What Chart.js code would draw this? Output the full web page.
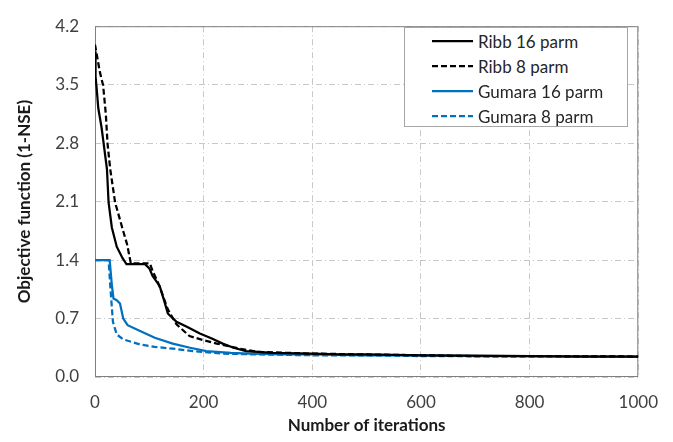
<!DOCTYPE html>
<html>
<head>
<meta charset="utf-8">
<script src="https://cdn.jsdelivr.net/npm/chart.js@4.4.1/dist/chart.umd.min.js"></script>
<style>
	html, body { margin: 0; padding: 0; background: #fff; }
	#wrap { position: relative; width: 673px; height: 442px; }
	#legend {
		position: absolute; left: 404px; top: 27px; width: 224px; height: 100px;
		box-sizing: border-box; border: 1px solid #a6a6a6; background: #fff;
		font-family: Lato, sans-serif; font-size: 17px; color: #262626;
	}
	.item { position: absolute; left: 27px; height: 24px; display: flex; align-items: center; white-space: nowrap; }
	.item svg { margin-right: 5px; }
</style>
</head>
<body>
<div id="wrap">
	<canvas id="chart" width="673" height="442"></canvas>
	<div id="legend"></div>
</div>
<script>
// Objective function vs iterations
const ribb16Iter = [0, 1, 3, 6, 12, 16, 22, 25, 31, 40, 51, 58, 92, 100, 106, 119, 128, 134, 150, 170, 193, 215, 235, 255, 278, 300, 327, 400, 450, 500, 600, 700, 800, 900, 1000];
const ribb16Obj = [3.9, 3.6, 3.46, 3.22, 2.99, 2.79, 2.49, 2.09, 1.79, 1.56, 1.42, 1.35, 1.35, 1.3, 1.21, 1.09, 0.9, 0.76, 0.66, 0.6, 0.52, 0.46, 0.4, 0.35, 0.31, 0.3, 0.29, 0.28, 0.27, 0.27, 0.26, 0.255, 0.25, 0.245, 0.245];

const ribb8Iter = [0, 9, 15, 20, 23, 28, 37, 50, 59, 66, 101, 106, 116, 123, 134, 150, 174, 200, 224, 266, 300, 350, 400, 500, 600, 700, 800, 1000];
const ribb8Obj = [3.98, 3.65, 3.49, 3.14, 2.8, 2.49, 2.09, 1.79, 1.59, 1.36, 1.36, 1.27, 1.13, 1.01, 0.81, 0.63, 0.49, 0.44, 0.4, 0.34, 0.3, 0.29, 0.28, 0.27, 0.26, 0.25, 0.25, 0.245];

const gumara16Iter = [0, 27, 31, 34, 40, 46, 52, 60, 83, 110, 143, 175, 205, 250, 284, 350, 400, 500, 600, 700, 800, 1000];
const gumara16Obj = [1.4, 1.4, 1.1, 0.94, 0.92, 0.88, 0.7, 0.62, 0.55, 0.47, 0.4, 0.35, 0.31, 0.29, 0.28, 0.27, 0.27, 0.26, 0.26, 0.25, 0.25, 0.245];

const gumara8Iter = [0, 25, 28, 33, 40, 52, 83, 110, 143, 180, 235, 300, 400, 500, 600, 1000];
const gumara8Obj = [1.4, 1.4, 1.1, 0.66, 0.51, 0.45, 0.39, 0.36, 0.34, 0.31, 0.28, 0.27, 0.26, 0.26, 0.25, 0.245];

const seriesNames = ['Ribb 16 parm', 'Ribb 8 parm', 'Gumara 16 parm', 'Gumara 8 parm'];
const xTicks = [0, 200, 400, 600, 800, 1000];
const yTicks = [0, 0.7, 1.4, 2.1, 2.8, 3.5, 4.2];

const BLACK = '#000000';
const BLUE = '#0070c0';
const DASH = [6, 3];
const FONT = 'Lato, sans-serif';

function toPoints(xs, ys) {
	return xs.map((x, i) => ({ x: x, y: ys[i] }));
}

const datasets = [
	{ label: seriesNames[0], data: toPoints(ribb16Iter, ribb16Obj), borderColor: BLACK, borderDash: [] },
	{ label: seriesNames[1], data: toPoints(ribb8Iter, ribb8Obj), borderColor: BLACK, borderDash: DASH },
	{ label: seriesNames[2], data: toPoints(gumara16Iter, gumara16Obj), borderColor: BLUE, borderDash: [] },
	{ label: seriesNames[3], data: toPoints(gumara8Iter, gumara8Obj), borderColor: BLUE, borderDash: DASH },
].map((ds) => ({ ...ds, borderWidth: 2.25, pointRadius: 0, tension: 0, fill: false }));

// plot frame drawn under the lines
const framePlugin = {
	id: 'frame',
	beforeDatasetsDraw(chart) {
		const { ctx, chartArea: a } = chart;
		ctx.save();
		ctx.strokeStyle = '#7f7f7f';
		ctx.lineWidth = 1;
		ctx.strokeRect(a.left + 0.5, a.top + 0.5, a.right - a.left - 1, a.bottom - a.top - 1);
		ctx.restore();
	},
};

const gridOpts = { color: '#c8c8c8', drawTicks: false };
const borderOpts = { display: false, dash: [6, 3, 1, 3] };

new Chart(document.getElementById('chart').getContext('2d'), {
	type: 'line',
	data: { datasets: datasets },
	plugins: [framePlugin],
	options: {
		responsive: false,
		animation: false,
		devicePixelRatio: 1,
		layout: { padding: { top: 16, right: 33, left: 0, bottom: 0 } },
		plugins: { legend: { display: false }, tooltip: { enabled: false } },
		scales: {
			x: {
				type: 'linear',
				min: 0,
				max: 1000,
				afterBuildTicks: (s) => { s.ticks = xTicks.map((v) => ({ value: v })); },
				afterFit: (s) => { s.height = 65; },
				ticks: {
					color: '#404040',
					font: { family: FONT, size: 17 },
					padding: 15,
					maxRotation: 0,
					callback: (v) => String(v),
				},
				grid: gridOpts,
				border: borderOpts,
				title: {
					display: true,
					text: 'Number of iterations',
					color: '#1a1a1a',
					font: { family: FONT, size: 17, weight: 'bold' },
					padding: { top: 4, bottom: 6 },
				},
			},
			y: {
				type: 'linear',
				min: 0,
				max: 4.2,
				afterBuildTicks: (s) => { s.ticks = yTicks.map((v) => ({ value: v })); },
				afterFit: (s) => { s.width = 95; },
				ticks: {
					color: '#404040',
					font: { family: FONT, size: 17 },
					padding: 16,
					callback: (v) => v.toFixed(1),
				},
				grid: gridOpts,
				border: borderOpts,
				title: {
					display: true,
					text: 'Objective function (1-NSE)',
					color: '#1a1a1a',
					font: { family: FONT, size: 17, weight: 'bold' },
					padding: { top: 14, bottom: 4 },
				},
			},
		},
	},
});

// legend in the top right corner of the plot
const legend = document.getElementById('legend');
datasets.forEach((ds, i) => {
	const item = document.createElement('div');
	item.className = 'item';
	item.style.top = (1 + i * 25) + 'px';
	const dash = ds.borderDash.length ? ` stroke-dasharray="${ds.borderDash.join(' ')}"` : '';
	item.innerHTML = `<svg width="41" height="6"><line x1="0" y1="3" x2="41" y2="3" stroke="${ds.borderColor}" stroke-width="2.25"${dash}/></svg><span>${ds.label}</span>`;
	legend.appendChild(item);
});
</script>
</body>
</html>
